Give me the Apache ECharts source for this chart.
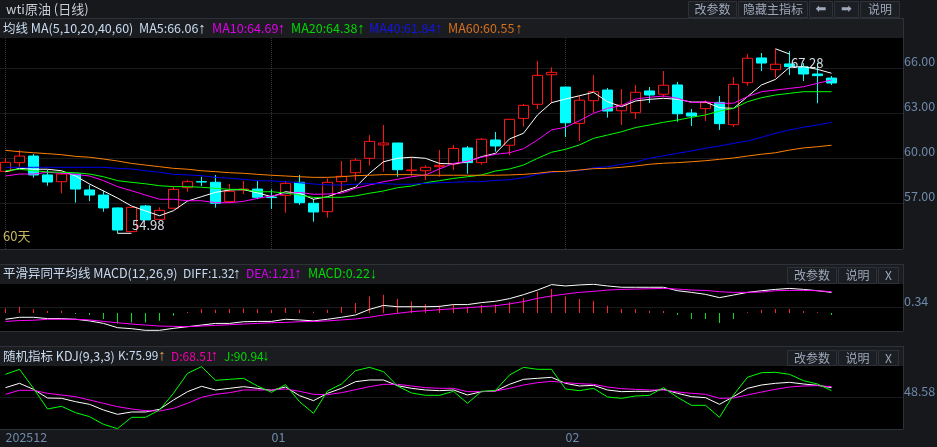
<!DOCTYPE html>
<html>
<head>
<meta charset="utf-8">
<style>html,body{margin:0;padding:0;background:#16181c;overflow:hidden}#c{width:937px;height:447px}</style>
<script src="https://cdn.jsdelivr.net/npm/echarts@6/dist/echarts.min.js"></script>
</head>
<body>
<div id="c"></div>
<script>
// [open, close, low, high]
const candles = [
[59.11,59.71,59.11,60.0],[59.69,60.13,59.42,60.53],[60.13,58.87,58.69,60.27],[58.87,58.40,58.15,59.20],[58.42,58.93,57.65,59.09],
[58.93,57.93,57.02,58.93],[57.87,57.53,57.13,58.2],[57.53,56.67,56.42,57.82],[56.67,55.20,54.98,56.71],[55.09,56.71,55.09,56.71],
[56.8,55.87,55.87,56.87],[55.91,56.51,55.91,56.71],[56.65,57.91,56.65,58.09],[58.02,58.42,57.75,58.53],[58.42,58.40,58.13,58.75],
[58.38,56.98,56.69,58.87],[57.09,57.78,57.02,58.27],[57.87,57.93,57.6,58.47],[57.93,57.38,57.25,58.48],[57.40,57.36,56.6,57.91],
[57.51,58.31,56.35,58.48],[58.38,57.02,56.87,58.87],[56.98,56.40,55.75,57.27],[56.42,58.38,56.02,58.65],[58.42,58.78,57.75,59.8],
[59.02,59.85,58.49,59.98],[59.98,61.11,59.49,61.53],[60.87,61.0,59.09,62.2],[61.0,59.22,58.75,61.0],[59.16,59.2,58.82,60.05],
[59.15,59.38,58.53,59.51],[59.42,59.51,58.75,60.53],[59.6,60.64,59.2,60.87],[60.67,59.69,58.95,60.8],[59.69,61.25,59.55,61.33],
[61.2,60.8,60.42,61.73],[60.85,62.58,60.18,62.58],[62.64,63.51,62.09,63.6],[63.58,65.51,63.27,66.47],[65.55,65.71,63.65,66.05],
[64.73,62.35,61.4,64.73],[62.31,63.85,61.13,64.15],[63.82,64.42,63.02,65.53],[64.53,63.13,62.69,64.67],[63.15,63.53,62.2,64.6],
[63.02,64.38,62.6,64.87],[64.47,64.2,63.67,64.73],[64.25,64.85,64.05,65.8],[64.87,62.95,62.42,65.07],[63,62.8,62.13,63.27],
[63.29,63.69,62.47,63.85],[63.71,62.29,61.87,64.13],[62.22,64.91,62.07,65.4],[65.02,66.65,64.82,66.93],[66.67,66.33,65.8,67.0],
[65.89,66.25,65.35,67.27],[66.27,66.09,65.53,67.13],[66.07,65.6,65.13,66.33],[65.6,65.49,63.65,66.35],[65.33,65.0,64.87,65.47]];

const ma5 = [59.09,59.31,59.25,59.25,59.15,58.8,58.27,57.8,57.33,56.8,56.47,56.15,56.49,57.13,57.42,57.71,57.87,57.89,57.68,57.42,57.75,57.65,57.25,57.42,57.75,58.05,58.98,59.75,59.98,60.05,59.98,59.64,59.6,59.75,60.09,60.31,61.27,61.65,62.87,63.69,63.93,64.15,64.38,63.75,63.42,63.8,63.91,63.98,63.91,63.73,63.73,63.35,63.31,64.09,64.87,65.24,66.05,66.09,65.91,65.65];
const ma10 = [58.8,58.93,58.93,59.05,58.98,58.91,58.8,58.49,58.09,57.82,57.53,57.25,57.25,57.15,57.15,57.02,57.02,57.11,57.31,57.47,57.62,57.71,57.58,57.6,57.65,57.98,58.2,58.42,58.58,58.75,58.87,59.27,59.64,59.78,60.05,60.25,60.35,60.62,61.2,61.87,62.05,62.49,62.98,63.31,63.49,63.93,64.05,64.13,63.98,63.69,63.75,63.65,63.65,64.09,64.42,64.53,64.64,64.75,64.98,65.2];
const ma20 = [59.15,59.25,59.15,59.07,59.05,59.02,58.93,58.75,58.49,58.38,58.28,58.15,58.09,58.09,58.05,57.98,57.91,57.91,57.75,57.75,57.67,57.53,57.37,57.38,57.38,57.47,57.65,57.8,58.02,58.13,58.35,58.49,58.64,58.75,58.87,59.13,59.27,59.53,59.98,60.38,60.58,60.87,61.31,61.53,61.75,62.03,62.2,62.38,62.53,62.71,62.87,63.13,63.31,63.75,64.02,64.2,64.31,64.42,64.42,64.42];
const ma40 = [59.38,59.38,59.38,59.38,59.38,59.38,59.38,59.38,59.31,59.27,59.15,59.05,58.91,58.87,58.82,58.71,58.65,58.58,58.49,58.47,58.42,58.35,58.27,58.2,58.2,58.25,58.29,58.29,58.25,58.25,58.31,58.35,58.38,58.42,58.42,58.51,58.55,58.69,58.91,59.05,59.11,59.15,59.35,59.42,59.58,59.73,59.98,60.15,60.31,60.47,60.65,60.8,60.98,61.13,61.38,61.65,61.87,62.05,62.2,62.38];
const ma60 = [60.51,60.42,60.35,60.29,60.22,60.11,60.05,59.93,59.8,59.64,59.53,59.42,59.31,59.25,59.15,59.09,59.02,58.98,58.91,58.85,58.8,58.75,58.71,58.71,58.75,58.82,58.85,58.89,58.89,58.89,58.85,58.85,58.85,58.85,58.85,58.85,58.87,58.91,58.98,59.09,59.11,59.2,59.29,59.31,59.38,59.47,59.58,59.65,59.69,59.75,59.82,59.91,60,60.13,60.25,60.35,60.53,60.67,60.75,60.85];

const diff = [-.38,-.26,-.26,-.34,-.34,-.38,-.48,-.63,-.89,-.95,-1.05,-1.05,-.93,-.83,-.73,-.63,-.63,-.53,-.51,-.51,-.38,-.42,-.48,-.38,-.26,-.12,.22,.46,.38,.38,.38,.40,.51,.51,.63,.71,.87,1.11,1.39,1.72,1.64,1.70,1.74,1.64,1.56,1.56,1.56,1.56,1.35,1.25,1.13,.93,1.09,1.25,1.35,1.43,1.49,1.43,1.35,1.25];
const dea = [-.51,-.46,-.44,-.38,-.38,-.38,-.42,-.51,-.59,-.67,-.73,-.79,-.81,-.83,-.79,-.75,-.71,-.67,-.63,-.59,-.57,-.53,-.51,-.48,-.42,-.36,-.26,-.12,-.02,.08,.14,.20,.26,.32,.38,.44,.55,.69,.89,1.03,1.15,1.25,1.31,1.39,1.43,1.45,1.47,1.49,1.45,1.39,1.37,1.29,1.25,1.25,1.27,1.35,1.37,1.37,1.35,1.29];
const hist = [.28,.38,.24,.12,.14,-.06,-.12,-.36,-.63,-.57,-.57,-.47,-.16,.06,.24,.2,.24,.28,.24,.2,.3,.2,.08,.2,.36,.6,1.0,1.1,.85,.69,.55,.44,.5,.38,.48,.52,.65,.91,1.29,1.45,1.0,.85,.75,.44,.26,.24,.14,.12,-.12,-.36,-.36,-.6,-.36,.05,.18,.24,.24,.12,.05,-.12];

const kVals = [71.8,82.2,67.8,47,46.2,38.2,31.8,18.2,7.8,13.4,13.4,19.8,42.2,62.2,75,66.2,70.2,74.2,70.2,65.4,73.4,52.6,40.6,58.2,70.2,86.2,90.2,90.2,76.6,70.2,66.2,64.6,66.2,54.2,62.2,63.8,79.8,91.8,94.2,96.6,82.2,75.8,77.4,66.2,62.2,63,63,67.8,58.2,50.2,47.8,31.8,50.2,70.2,78.2,82.2,84.6,80.6,77.4,71.8];
const dVals = [55.8,65.4,65.4,58.2,54.2,50.2,42.2,34.2,26.2,20.6,16.6,15.8,22.2,34.2,48.6,55.8,59.8,66.2,66.2,66.2,68.6,63,55.8,55,59.8,67,74.2,79.8,79.8,75.8,71.8,70.2,70.2,62.2,62.2,63.8,70.2,78.2,83.8,87,83.8,81.4,79.8,73.4,69.4,67.8,66.2,66.2,61.4,58.2,55.8,46.2,47,54.2,61.4,67.8,73.4,75.8,76.6,74.2];
const jVals = [103.8,115.8,70.2,20.6,27,11.8,2.2,-16.2,-26.6,.6,.6,18.2,58.2,106.2,122.2,89.4,91.8,94.2,75.8,60.6,79,38.2,10.2,63.8,80.6,112.6,120.6,110.2,75.8,59,53.4,53.4,63,34.2,63,65.4,102.2,120.6,115.8,115.8,68.6,64.6,70.2,49.4,46.2,51.8,53.4,71.8,48.6,29.4,29.4,.6,54.2,96.6,107.8,108.6,103.8,88.6,80.6,64.6];

const lowNote = [[8,54.98],[9,54.98]];
const highNote = [[55,67.28],[56,66.93]];
const priceTicks = [57,60,63,66];
const macdTicks = [0.34];
const kdjTicks = [48.58];
const monthTicks = [0,19,40];
const monthLabels = {0:'202512',19:'01',40:'02'};

const FONT = '"Noto Sans CJK SC","Noto Sans",sans-serif';
const CHROME = '#16181c', ROW = '#1a1c20', EDGE = '#2e3137', BTN = '#1b1e23', BTNTXT = '#9ea8ba', AXTXT = '#6f89ab', DOT = '#33363c';

const gridLeft = -1.5, gridW = 904.5, band = 14;
const xMin = -0.5, xMax = xMin + gridW / band;
const grids = [
  {top: 38, height: 211},
  {top: 284, height: 47},
  {top: 366, height: 63}
].map(g => ({left: gridLeft, width: gridW, top: g.top, height: g.height, show: true, backgroundColor: '#000', borderWidth: 0, containLabel: false, outerBoundsMode: 'none'}));

function xAxis(i, lines, labels) {
  return {
    type: 'value', gridIndex: i, min: xMin, max: xMax, position: 'bottom', containShape: false,
    axisLine: {show: false},
    axisTick: {show: false, customValues: monthTicks},
    splitLine: {show: lines, lineStyle: {color: DOT, type: 'dotted', width: 1}},
    axisLabel: labels ? {show: true, customValues: monthTicks, color: AXTXT, fontFamily: FONT, fontSize: 12.5, align: 'left', margin: 2,
      formatter: v => monthLabels[v]} : {show: false}
  };
}
function yAxis(i, min, max, ticks, dec) {
  return {
    type: 'value', gridIndex: i, position: 'right', min, max, scale: true, containShape: false,
    axisLine: {show: false},
    axisTick: {show: false, customValues: ticks},
    splitLine: {show: true, lineStyle: {color: DOT, type: 'dotted', width: 1}},
    axisLabel: {show: true, customValues: ticks, color: AXTXT, fontFamily: FONT, fontSize: 12.5, margin: 1, verticalAlign: 'bottom',
      formatter: v => v.toFixed(dec)}
  };
}
const pts = a => a.map((v, i) => [i, v]);
function line(name, data, color, xi) {
  return {type: 'line', name, data: pts(data), xAxisIndex: xi, yAxisIndex: xi, symbol: 'none', silent: true, animation: false,
    lineStyle: {color, width: 1}, itemStyle: {color}, z: 5};
}
function note(data, text, off) {
  return {type: 'line', data, xAxisIndex: 0, yAxisIndex: 0, symbol: 'none', silent: true, animation: false,
    lineStyle: {color: '#fff', width: 1}, z: 6,
    markPoint: {symbol: 'circle', symbolSize: 1, itemStyle: {color: 'transparent'}, silent: true, animation: false,
      data: [{coord: data[1], value: text}],
      label: {show: true, position: 'right', distance: 0, offset: off, color: '#d6dde6', fontFamily: FONT, fontSize: 13, formatter: text}}};
}

const rects = [], texts = [];
function rect(x, y, w, h, fill, stroke) {
  rects.push({type: 'rect', silent: true, z: 1, shape: {x, y, width: w, height: h}, style: {fill: fill || 'none', stroke: stroke || null, lineWidth: 1}});
}
function text(x, y, s, color, size, align, font) {
  texts.push({type: 'text', silent: true, z: 3, x, y, style: {text: s, fill: color, font: `${size || 12}px ${font || FONT}`, textAlign: align || 'left', textVerticalAlign: 'middle'}});
}
function button(x0, x1, y0, y1, s, font, size) {
  rect(x0 + .5, y0 + .5, x1 - x0 - 1, y1 - y0 - 1, BTN, EDGE);
  text((x0 + x1) / 2, (y0 + y1) / 2, s, BTNTXT, size || 12, 'center', font);
}
// chrome rows
rect(0, 19, 903, 19, ROW);
rect(0, 265, 903, 19, ROW);
rect(0, 347, 903, 19, ROW);
function hline(y, x1) { rect(0, y + .5, x1, 0, null, EDGE); }
function vline(x, y0, y1) { rect(x + .5, y0, 0, y1 - y0, null, EDGE); }
hline(18, 903); hline(249, 903); hline(264, 903); hline(331, 903); hline(346, 903); hline(429, 903);
vline(903, 18, 249); vline(903, 264, 331); vline(903, 346, 429);

text(6, 9, 'wti原油 (日线)', '#c8ccd4', 13);
[['改参数',688,737],['隐藏主指标',738,808],['⬅',809,833,'"DejaVu Sans"',13],['➡',834,859,'"DejaVu Sans"',13],['说明',860,900]]
  .forEach(b => button(b[1], b[2], 1, 18, b[0], b[3], b[4]));
[['改参数',787,837],['说明',838,877],['X',878,899]].forEach(b => { button(b[1], b[2], 267, 284, b[0]); button(b[1], b[2], 350, 366, b[0]); });

const LT = '#c9dcf2', ARROW = '"Liberation Sans"';
function legend(y, items) {
  items.forEach(t => {
    text(t[0], y, t[1], t[2], t[6] || 12.5);
    if (t[3]) text(t[3], y, t[4], t[5] || t[2], 15, 'center', ARROW);
  });
}
legend(28.5, [[3,'均线 MA(5,10,20,40,60)',LT],[139,'MA5:66.06',LT,202,'↑'],[212,'MA10:64.69','#e000e8',281.5,'↑'],[291,'MA20:64.38','#00d800',361,'↑'],[369,'MA40:61.84','#1414e6',439,'↑'],[448,'MA60:60.55','#d8701c',519,'↑']]);
legend(273.5, [[3,'平滑异同平均线 MACD(12,26,9)',LT],[183,'DIFF:1.32',LT,237,'↑',LT,12],[246,'DEA:1.21','#d800f0',298,'↑','#d800f0',12],[308,'MACD:0.22','#00d800',373.5,'↓']]);
legend(356, [[3,'随机指标 KDJ(9,3,3)',LT],[118,'K:75.99',LT,162,'↑','#d89a50',11.8],[171,'D:68.51','#f000a8',214.5,'↑','#f000a8',12],[224,'J:90.94','#00d800',266,'↓','#00d800',12]]);
text(3, 236.5, '60天', '#c9b65e', 13);

const chart = echarts.init(document.getElementById('c'), null, {renderer: 'canvas'});
chart.setOption({
  animation: false,
  backgroundColor: CHROME,
  grid: grids,
  xAxis: [xAxis(0, true, false), xAxis(1, false, false), xAxis(2, false, true)],
  yAxis: [yAxis(0, 53.9333, 68, priceTicks, 2), yAxis(1, -1.0909, 1.7576, macdTicks, 2), yAxis(2, -27.42, 123.78, kdjTicks, 2)],
  graphic: {elements: rects.concat(texts)},
  series: [
    {type: 'candlestick', data: candles.map((c, i) => [i].concat(c)), encode: {x: 0, y: [1, 2, 3, 4]}, xAxisIndex: 0, yAxisIndex: 0,
     barWidth: 10, silent: true, animation: false, z: 3,
     itemStyle: {color: '#000', color0: '#00ffff', borderColor: '#ff1414', borderColor0: '#00ffff', borderWidth: 1}},
    line('MA5', ma5, '#ffffff', 0), line('MA10', ma10, '#ff00ff', 0), line('MA20', ma20, '#00ff00', 0),
    line('MA40', ma40, '#0000f0', 0), line('MA60', ma60, '#ff8000', 0),
    note(lowNote, '54.98', [0, -8]), note(highNote, '67.28', [1, 9]),
    {type: 'bar', data: pts(hist), xAxisIndex: 1, yAxisIndex: 1, barWidth: 1, silent: true, animation: false,
     itemStyle: {color: p => p.value[1] >= 0 ? '#ff2030' : '#00e020'}},
    line('DIFF', diff, '#ffffff', 1), line('DEA', dea, '#ff00ff', 1),
    line('K', kVals, '#ffffff', 2), line('D', dVals, '#ff00ff', 2), line('J', jVals, '#00ff00', 2)
  ]
});
</script>
</body>
</html>
